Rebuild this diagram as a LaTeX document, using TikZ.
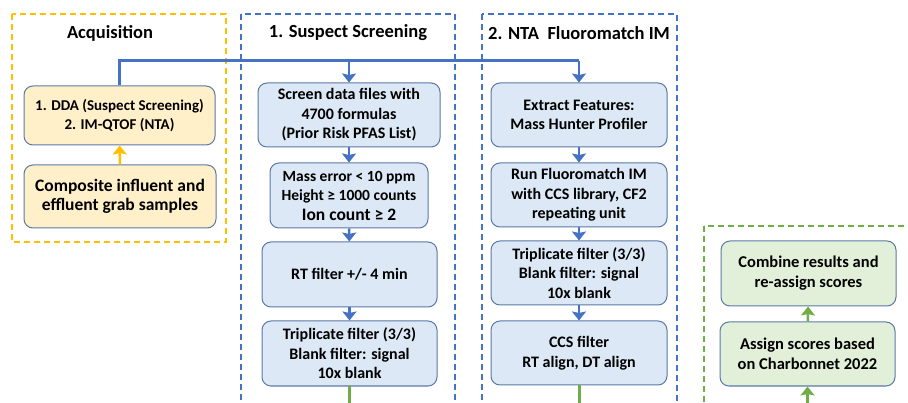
\documentclass[tikz,border=0pt]{standalone}
\usepackage{fontspec}
\setmainfont{Carlito}
\usetikzlibrary{arrows.meta}

\definecolor{acqfill}{HTML}{FFF0C9}
\definecolor{scrfill}{HTML}{DCE8F5}
\definecolor{scofill}{HTML}{E2F0D9}
\definecolor{boxline}{HTML}{5A78A8}
\definecolor{acqline}{HTML}{FFC000}
\definecolor{scrline}{HTML}{4472C4}
\definecolor{scoline}{HTML}{70AD47}

\tikzset{
  stage/.style={draw=boxline, line width=1pt, rounded corners=9pt, align=center,
    inner sep=1pt, font=\bfseries\fontsize{16}{19.5}\selectfont},
  acq/.style={stage, fill=acqfill},
  scr/.style={stage, fill=scrfill},
  sco/.style={stage, fill=scofill, font=\bfseries\fontsize{16.5}{20}\selectfont},
  frame/.style={line width=1.4pt, dash pattern=on 6pt off 4pt},
  title/.style={font=\bfseries\fontsize{18.5}{20}\selectfont},
  flow/.style={-{Stealth[length=9pt, width=14pt, inset=1.5pt]}, line width=2.5pt},
}

\begin{document}
\begin{tikzpicture}[x=1pt, y=-1pt]
  \useasboundingbox (0,0) rectangle (908,403);
  \clip (0,0) rectangle (908,403);

  % frames
  \draw[frame, acqline] (12,14) rectangle (226,242);
  \draw[frame, scrline] (241,14) rectangle (455,430);
  \draw[frame, scrline] (482,14) rectangle (677,430);
  \draw[frame, scoline] (704,226) rectangle (930,430);

  \node[title] (tacq) at (110,33) {Acquisition};
  \node[title] (tscr) at (348,33) {1. Suspect Screening};
  \node[title] (tnta) at (579,33) {2. NTA\ \ Fluoromatch IM};

  % acquisition
  \node[acq, minimum width=191pt, minimum height=59pt] (a1) at (119.5,115.5)
    {\fontsize{15}{17}\selectfont 1. DDA (Suspect Screening)\\
     \fontsize{15}{17}\selectfont 2. IM-QTOF (NTA)};
  \node[acq, minimum width=192pt, minimum height=63pt] (a2) at (120,196.5)
    {\fontsize{17.5}{20.5}\selectfont Composite influent and\\
     \fontsize{17.5}{20.5}\selectfont effluent grab samples};

  % suspect screening
  \node[scr, minimum width=182pt, minimum height=64pt] (s1) at (349,115)
    {Screen data files with\\ 4700 formulas\\ (Prior Risk PFAS List)};
  \node[scr, minimum width=158pt, minimum height=65pt] (s2) at (349,195.5)
    {\fontsize{15.5}{17}\selectfont Mass error < 10 ppm\\
     \fontsize{15.5}{17}\selectfont Height ≥ 1000 counts\\
     \fontsize{17.5}{20.5}\selectfont Ion count ≥ 2};
  \node[scr, minimum width=175pt, minimum height=65pt] (s3) at (349.5,274.5)
    {RT filter +/- 4 min};
  \node[scr, minimum width=175pt, minimum height=65pt] (s4) at (349.5,353.5)
    {Triplicate filter (3/3)\\ Blank filter: signal\\ 10x blank};

  % non-targeted analysis
  \node[scr, minimum width=176pt, minimum height=64pt] (n1) at (579,115)
    {Extract Features:\\ Mass Hunter Profiler};
  \node[scr, minimum width=176pt, minimum height=64pt] (n2) at (579,195)
    {Run Fluoromatch IM\\ with CCS library, CF2\\ repeating unit};
  \node[scr, minimum width=176pt, minimum height=64pt] (n3) at (579,273)
    {Triplicate filter (3/3)\\ Blank filter: signal\\ 10x blank};
  \node[scr, minimum width=176pt, minimum height=64pt] (n4) at (579,353)
    {CCS filter\\ RT align, DT align};

  % scoring
  \node[sco, minimum width=175pt, minimum height=65pt] (c1) at (808.5,273.5)
    {Combine results and\\ re-assign scores};
  \node[sco, minimum width=175pt, minimum height=64pt] (c2) at (807.5,354)
    {Assign scores based\\ on Charbonnet 2022};

  \coordinate (bus) at (0,61);
  \coordinate (s4out) at (s4.south |- 0,420);
  \coordinate (n4out) at (n4.south |- 0,420);
  \coordinate (c2in) at (c2.south |- 0,420);

  \draw[acqline, flow] (a2) -- (a1);
  \draw[scrline, line width=3pt] (a1.north) |- (n1.north |- bus);
  \path[scrline, flow]
    (s1.north |- bus) edge (s1)
    (n1.north |- bus) edge (n1)
    (s1) edge (s2)
    (s2) edge (s3)
    (s3) edge (s4)
    (n1) edge (n2)
    (n2) edge (n3)
    (n3) edge (n4);
  \draw[scoline, line width=3pt] (s4) -- (s4out);
  \draw[scoline, line width=3pt] (n4) -- (n4out);
  \path[scoline, flow]
    (c2in) edge (c2)
    (c2) edge (c1);
\end{tikzpicture}
\end{document}
